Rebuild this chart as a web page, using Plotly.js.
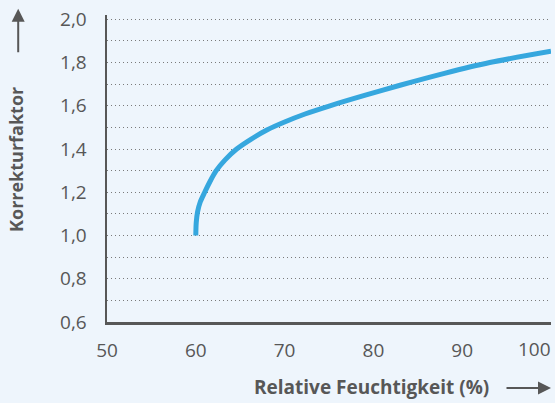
<!DOCTYPE html>
<html>
<head>
<meta charset="utf-8">
<script src="https://cdn.plot.ly/plotly-3.0.1.min.js"></script>
<style>html,body{margin:0;padding:0;background:#eef5fc;}#chart{width:555px;height:403px;}</style>
</head>
<body>
<div id="chart"></div>
<script>
// Relative humidity (%) and correction factor
const humidity = [60, 60.05, 60.2, 60.5, 61.0, 61.6, 62.3, 63.3, 64.6, 66.2, 68.0, 70.0, 72.3, 75.1, 79.0, 83.0, 88.0, 93.1, 100];
const factor   = [1.00, 1.06, 1.11, 1.155, 1.20, 1.25, 1.30, 1.35, 1.40, 1.445, 1.488, 1.525, 1.562, 1.600, 1.648, 1.695, 1.750, 1.800, 1.852];
const xTickVals = [50, 60, 70, 80, 90];
const xTickText = ["50", "60", "70", "80", "90"];
const xLastTick = 100;
const xLastText = "100";
const yTickVals = [0.6, 0.8, 1.0, 1.2, 1.4, 1.6, 1.8, 2.0];
const yTickText = ["0,6", "0,8", "1,0", "1,2", "1,4", "1,6", "1,8", "2,0"];
const xTitle = "Relative Feuchtigkeit (%)";
const yTitle = "Korrekturfaktor";

const grey = "#575757";
const tickFont = {family: "Open Sans, sans-serif", size: 19, color: grey};
const trace = {
  x: humidity, y: factor, mode: "lines", type: "scatter",
  line: {color: "#36a7de", width: 5, shape: "spline", smoothing: 0.8},
  hoverinfo: "skip"
};
const layout = {
  width: 555, height: 403,
  margin: {l: 107, r: 4, t: 15, b: 81},
  paper_bgcolor: "#eef5fc", plot_bgcolor: "#eef5fc",
  showlegend: false,
  font: {family: "Open Sans, sans-serif", color: grey},
  xaxis: {
    range: [50, 100], tickmode: "array", tickvals: xTickVals, ticktext: xTickText,
    showgrid: false, zeroline: false, showline: true, linecolor: grey, linewidth: 2.5,
    ticks: "", ticklabelstandoff: 10, tickfont: tickFont
  },
  yaxis: {
    range: [0.6, 2.02], tickmode: "array", tickvals: yTickVals, ticktext: yTickText,
    showgrid: true, gridcolor: "#7a7a7a", gridwidth: 1, griddash: "1px,3px",
    minor: {dtick: 0.1, showgrid: true, gridcolor: "#7a7a7a", gridwidth: 1, griddash: "1px,3px"},
    zeroline: false, showline: true, linecolor: grey, linewidth: 2.5,
    ticks: "", ticklabelstandoff: 14, tickfont: tickFont
  },
  annotations: [
    {text: xLastText, xref: "x", yref: "paper", x: xLastTick, y: -0.087,
     xanchor: "right", yanchor: "middle", showarrow: false, xshift: 2, font: tickFont},
    {text: "<b>" + xTitle + "</b>", xref: "paper", yref: "paper", x: 0.5946, y: -0.212,
     xanchor: "center", yanchor: "middle", showarrow: false,
     font: {family: "Open Sans, sans-serif", size: 19, color: grey}},
    {text: "<b>" + yTitle + "</b>", xref: "paper", yref: "paper", x: -0.205, y: 0.531,
     xanchor: "center", yanchor: "middle", showarrow: false, textangle: -90,
     font: {family: "Open Sans, sans-serif", size: 18, color: grey}},
    {text: "", xref: "paper", yref: "paper", x: 1.0, y: -0.215, ax: -46, ay: 0,
     showarrow: true, arrowhead: 2, arrowsize: 1.3, arrowwidth: 2, arrowcolor: grey},
    {text: "", xref: "paper", yref: "paper", x: -0.2, y: 1.02, ax: 0, ay: 45,
     showarrow: true, arrowhead: 2, arrowsize: 1.3, arrowwidth: 2, arrowcolor: grey}
  ]
};
Plotly.newPlot("chart", [trace], layout, {displayModeBar: false, staticPlot: true});
</script>
</body>
</html>
